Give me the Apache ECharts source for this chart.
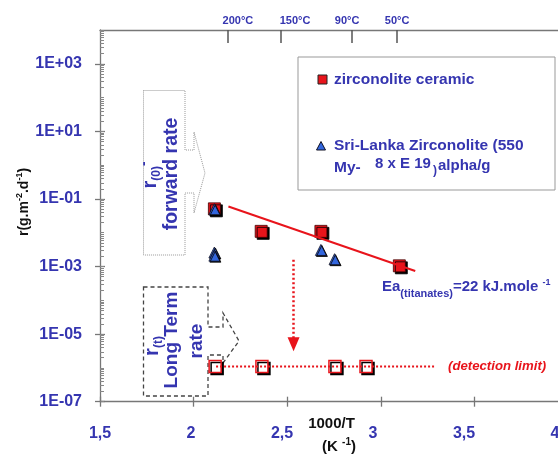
<!DOCTYPE html>
<html><head><meta charset="utf-8">
<script src="https://cdn.jsdelivr.net/npm/echarts@6/dist/echarts.min.js"></script>
<style>html,body{margin:0;padding:0;background:#fff}#c{width:558px;height:457px}</style>
</head><body><div id="c"></div>
<script>
// ---- data ----
const xTicks = [1.5, 2, 2.5, 3, 3.5, 4];
const yDecades = [1e-7, 1e-5, 1e-3, 1e-1, 1e1, 1e3];
const tempLabels = ['200°C', '150°C', '90°C', '50°C'];
const tempTickX = [2.184, 2.465, 2.845, 3.087];
const tempLabelX = [2.237, 2.542, 2.820, 3.087];
const ceramic = [[2.111, 0.051], [2.361, 0.011], [2.680, 0.011], [3.099, 0.00105]];
const sriLanka = [[2.111, 0.05], [2.111, 0.0026], [2.111, 0.0021], [2.680, 0.0031], [2.753, 0.00165]];
const longTerm = [[2.115, 1.1e-6], [2.365, 1.1e-6], [2.755, 1.1e-6], [2.921, 1.1e-6]];
const fitLine = [[2.186, 0.060], [3.184, 0.00074]];
const detectionLine = [[2.12, 1.1e-6], [3.29, 1.1e-6]];
const arrowX = 2.534, arrowFrom = 1.6e-3, arrowTo = 5e-6;

// ---- styles ----
const BLUE = '#3535b0', RED = '#e8141b', AX = '#777';
const FONT = 'Liberation Sans, Arial, sans-serif';
const minorVals = [];
for (let e = -7; e < 4; e++) for (let k = 1; k <= 9; k++) minorVals.push(k * Math.pow(10, e));
minorVals.push(1e4);

const fmtE = v => { const e = Math.round(Math.log10(v)); const s = e < 0 ? '-' : '+'; const a = Math.abs(e); return '1E' + s + (a < 10 ? '0' : '') + a; };
const shadow = { shadowColor: '#000', shadowBlur: 0, shadowOffsetX: 2, shadowOffsetY: 2 };

const chart = echarts.init(document.getElementById('c'), null, { renderer: 'canvas' });
chart.setOption({
  animation: false,
  backgroundColor: '#fff',
  textStyle: { fontFamily: FONT },
  grid: { left: 100, top: 30, width: 468, height: 371.7, containLabel: false, outerBoundsMode: 'none' },
  xAxis: [
    { type: 'value', position: 'bottom', min: 1.5, max: 4, interval: 0.5,
      axisLine: { show: true, lineStyle: { color: AX, width: 1.3 } },
      axisTick: { show: true, length: 5, lineStyle: { color: AX, width: 1.3 } },
      axisLabel: { show: false }, splitLine: { show: false } },
    { type: 'value', position: 'bottom', min: 1.5, max: 4, interval: 0.5,
      axisLine: { show: false },
      axisTick: { show: true, inside: true, length: 5, lineStyle: { color: AX, width: 1.3 } },
      axisLabel: { show: false }, splitLine: { show: false } },
    { type: 'value', position: 'bottom', min: 1.5, max: 4.0714,
      axisLine: { show: false }, axisTick: { show: false }, splitLine: { show: false },
      axisLabel: { show: true, customValues: xTicks, margin: 24, color: BLUE, fontSize: 16, fontWeight: 'bold', fontFamily: FONT,
        formatter: v => String(v).replace('.', ',') } },
    { type: 'value', position: 'top', min: 1.5, max: 4,
      axisLine: { show: true, lineStyle: { color: AX, width: 1.3 } },
      axisTick: { show: true, inside: true, length: 13, customValues: tempTickX, lineStyle: { color: '#555', width: 1.5 } },
      splitLine: { show: false },
      axisLabel: { show: true, customValues: tempLabelX, margin: 4, color: BLUE, fontSize: 11, fontWeight: 'bold', fontFamily: FONT,
        formatter: v => { let bi = 0, bd = 1e9; tempLabelX.forEach((t, i) => { const d = Math.abs(t - v); if (d < bd) { bd = d; bi = i; } }); return tempLabels[bi]; } } }
  ],
  yAxis: [
    { type: 'log', logBase: 10, min: 1e-7, max: 1e4,
      axisLine: { show: true, lineStyle: { color: AX, width: 1.3 } },
      axisTick: { show: true, length: 5, customValues: yDecades, lineStyle: { color: AX, width: 1.3 } },
      splitLine: { show: false }, minorTick: { show: false },
      axisLabel: { show: true, customValues: yDecades, margin: 18, color: BLUE, fontSize: 16, fontWeight: 'bold', fontFamily: FONT, formatter: fmtE } },
    { type: 'log', logBase: 10, min: 1e-7, max: 1e4, position: 'left',
      axisLine: { show: false }, splitLine: { show: false }, axisLabel: { show: false },
      axisTick: { show: true, inside: true, length: 5, customValues: yDecades, lineStyle: { color: AX, width: 1.3 } } },
    { type: 'log', logBase: 10, min: 1e-7, max: 1e4, position: 'left',
      axisLine: { show: false }, splitLine: { show: false }, axisLabel: { show: false },
      axisTick: { show: true, inside: true, length: 4, customValues: minorVals, lineStyle: { color: '#888', width: 1 } } }
  ],
  series: [
    { name: 'fit', type: 'line', xAxisIndex: 0, yAxisIndex: 0, data: fitLine, symbol: 'none', silent: true,
      lineStyle: { color: RED, width: 2 },
      markLine: { silent: true, symbol: ['none', 'triangle'], symbolSize: [12, 14], label: { show: false },
        lineStyle: { color: RED, width: 2.5, type: [2, 2.5] },
        data: [[{ coord: [arrowX, arrowFrom] }, { coord: [arrowX, arrowTo] }]] } },
    { name: 'detection', type: 'line', xAxisIndex: 0, yAxisIndex: 0, data: detectionLine, symbol: 'none', silent: true,
      lineStyle: { color: RED, width: 2, type: [2, 2] } },
    { name: 'zirconolite ceramic', type: 'scatter', xAxisIndex: 0, yAxisIndex: 0, data: ceramic, symbol: 'rect', symbolSize: 12,
      itemStyle: Object.assign({ color: RED, borderColor: '#400', borderWidth: 0.8, opacity: 1 }, shadow) },
    { name: 'Sri-Lanka Zirconolite', type: 'scatter', xAxisIndex: 0, yAxisIndex: 0, data: sriLanka, symbol: 'triangle', symbolSize: [11, 11],
      itemStyle: Object.assign({ color: '#3366dd', borderColor: '#112', borderWidth: 0.8, opacity: 1 }, { shadowColor: '#000', shadowBlur: 0, shadowOffsetX: 1, shadowOffsetY: 1 }) },
    { name: 'long term', type: 'scatter', xAxisIndex: 0, yAxisIndex: 0, data: longTerm, symbol: 'rect', symbolSize: 12,
      itemStyle: Object.assign({ color: '#fff', borderColor: RED, borderWidth: 1.5, opacity: 1 }, shadow) }
  ],
  graphic: [
    // legend box
    { type: 'rect', shape: { x: 298, y: 57, width: 257, height: 133 }, style: { fill: 'none', stroke: '#999', lineWidth: 1 }, silent: true },
    { type: 'rect', shape: { x: 318, y: 75, width: 9, height: 9 }, style: { fill: RED, stroke: '#222', lineWidth: 1 }, silent: true },
    { type: 'polygon', shape: { points: [[321, 141.5], [325.5, 150], [316.5, 150]] }, style: { fill: '#3366dd', stroke: '#112', lineWidth: 1 }, silent: true },
    { type: 'text', x: 334, y: 79.5, style: { text: 'zirconolite ceramic', fill: BLUE, font: 'bold 15.5px ' + FONT, verticalAlign: 'middle' }, silent: true },
    { type: 'text', x: 334, y: 146, style: { text: 'Sri-Lanka Zirconolite (550', fill: BLUE, font: 'bold 15.5px ' + FONT, verticalAlign: 'middle' }, silent: true },
    { type: 'text', x: 334, y: 168, style: { text: 'My-', fill: BLUE, font: 'bold 15.5px ' + FONT, verticalAlign: 'middle' }, silent: true },
    { type: 'text', x: 375, y: 163.5, style: { text: '8 x E 19', fill: BLUE, font: 'bold 15px ' + FONT, verticalAlign: 'middle' }, silent: true },
    { type: 'text', x: 433, y: 171, style: { text: ')', fill: BLUE, font: 'bold 12px ' + FONT, verticalAlign: 'middle' }, silent: true },
    { type: 'text', x: 438, y: 166, style: { text: 'alpha/g', fill: BLUE, font: 'bold 15px ' + FONT, verticalAlign: 'middle' }, silent: true },
    // forward rate callout
    { type: 'polygon', shape: { points: [[143.5, 90.5], [185, 90.5], [185, 150], [194, 150], [194, 132], [205, 173], [194, 213], [194, 193], [185, 193], [185, 255], [143.5, 255]] },
      style: { fill: 'none', stroke: '#999', lineWidth: 1, lineDash: [1, 1] }, silent: true },
    { type: 'text', x: 150, y: 175, rotation: Math.PI / 2,
      style: { text: '{m|r}{s|(0)}{p|-}', align: 'center', verticalAlign: 'middle',
        rich: { m: { fontSize: 20, fontWeight: 'bold', fill: BLUE, lineHeight: 26, fontFamily: FONT },
                s: { fontSize: 12, fontWeight: 'bold', fill: BLUE, lineHeight: 12, padding: [14, 0, 0, 0], verticalAlign: 'top', fontFamily: FONT },
                p: { fontSize: 14, fontWeight: 'bold', fill: BLUE, lineHeight: 14, padding: [0, 0, 12, 0], verticalAlign: 'top', fontFamily: FONT } } }, silent: true },
    { type: 'text', x: 172, y: 174, rotation: Math.PI / 2,
      style: { text: 'forward rate', fill: BLUE, font: 'bold 19.5px ' + FONT, align: 'center', verticalAlign: 'middle' }, silent: true },
    // long term callout
    { type: 'polygon', shape: { points: [[143.5, 287], [208, 287], [208, 327], [223, 327], [223, 313], [239, 341], [223, 363], [223, 355], [208, 355], [208, 396], [143.5, 396]] },
      style: { fill: 'none', stroke: '#444', lineWidth: 1.3, lineDash: [4, 3] }, silent: true },
    { type: 'text', x: 152, y: 346, rotation: Math.PI / 2,
      style: { text: '{m|r}{s|(t)}', align: 'center', verticalAlign: 'middle',
        rich: { m: { fontSize: 20, fontWeight: 'bold', fill: BLUE, lineHeight: 26, fontFamily: FONT },
                s: { fontSize: 12, fontWeight: 'bold', fill: BLUE, lineHeight: 12, padding: [14, 0, 0, 0], verticalAlign: 'top', fontFamily: FONT } } }, silent: true },
    { type: 'text', x: 172, y: 340, rotation: Math.PI / 2,
      style: { text: 'Long Term', fill: BLUE, font: 'bold 19px ' + FONT, align: 'center', verticalAlign: 'middle' }, silent: true },
    { type: 'text', x: 197, y: 341, rotation: Math.PI / 2,
      style: { text: 'rate', fill: BLUE, font: 'bold 19px ' + FONT, align: 'center', verticalAlign: 'middle' }, silent: true },
    // Ea annotation
    { type: 'text', x: 382, y: 287,
      style: { text: '{a|Ea}{s|(titanates)}{a|=22 kJ.mole }{p|-1}', verticalAlign: 'middle',
        rich: { a: { fontSize: 15, fontWeight: 'bold', fill: BLUE, lineHeight: 24, fontFamily: FONT },
                s: { fontSize: 11, fontWeight: 'bold', fill: BLUE, lineHeight: 11, padding: [13, 0, 0, 0], verticalAlign: 'top', fontFamily: FONT },
                p: { fontSize: 9, fontWeight: 'bold', fill: BLUE, lineHeight: 9, padding: [3, 0, 12, 0], verticalAlign: 'top', fontFamily: FONT } } }, silent: true },
    { type: 'text', x: 448, y: 366.5,
      style: { text: '(detection limit)', fill: RED, font: 'italic bold 13.2px ' + FONT, verticalAlign: 'middle' }, silent: true },
    // axis titles
    { type: 'text', x: 24, y: 202, rotation: Math.PI / 2,
      style: { text: '{a|r(g.m}{p|-2}{a|.d}{p|-1}{a|)}', align: 'center', verticalAlign: 'middle',
        rich: { a: { fontSize: 14, fontWeight: 'bold', fill: '#111', lineHeight: 22, fontFamily: FONT },
                p: { fontSize: 9, fontWeight: 'bold', fill: '#111', lineHeight: 9, padding: [2, 0, 11, 0], verticalAlign: 'top', fontFamily: FONT } } }, silent: true },
    { type: 'text', x: 331.5, y: 423.5,
      style: { text: '1000/T', fill: '#111', font: 'bold 15px ' + FONT, align: 'center', verticalAlign: 'middle' }, silent: true },
    { type: 'text', x: 339, y: 447,
      style: { text: '{a|(K }{p|-1}{a|)}', align: 'center', verticalAlign: 'middle',
        rich: { a: { fontSize: 15, fontWeight: 'bold', fill: '#111', lineHeight: 22, fontFamily: FONT },
                p: { fontSize: 10, fontWeight: 'bold', fill: '#111', lineHeight: 10, padding: [1, 0, 11, 0], verticalAlign: 'top', fontFamily: FONT } } }, silent: true }
  ]
});
</script>
</body></html>
